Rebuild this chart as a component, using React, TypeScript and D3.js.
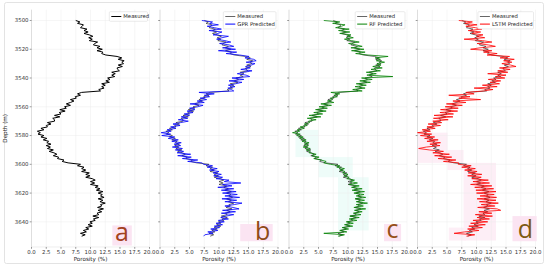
import React from "react";
import * as d3 from "d3";

// depth samples, 1 m apart starting at the top of the interval
const depthTop = 3500;

const measured = [
  7.5, 8.2, 7.8, 8.8, 8.6, 8.3, 9.4, 8.9, 9.6, 8.9, 9.8, 10.4, 9.7, 10.3, 9.8, 11.2, 10.7, 10.5, 11.6, 11.1,
  12.0, 11.1, 12.1, 11.9, 12.6, 14.5, 15.3, 14.7, 15.7, 15.3, 15.6, 14.7, 15.4, 14.5, 14.6, 14.9, 13.6, 14.2, 13.6, 14.1,
  12.9, 13.3, 12.6, 13.2, 11.9, 12.5, 11.9, 12.3, 11.4, 11.7, 8.5, 7.8, 8.3, 7.4, 7.6, 6.6, 7.2, 6.6, 5.9, 6.6,
  5.6, 5.9, 4.8, 5.7, 4.7, 5.0, 3.9, 4.8, 3.6, 3.9, 3.9, 2.7, 3.3, 2.5, 2.7, 1.6, 2.1, 1.0, 1.5, 1.1,
  2.1, 1.6, 2.6, 2.0, 2.9, 2.6, 3.3, 2.5, 3.2, 2.7, 3.7, 3.0, 3.8, 4.3, 3.7, 4.6, 4.4, 5.5, 5.2, 6.2,
  8.3, 7.8, 8.9, 8.5, 9.2, 8.5, 9.8, 9.2, 9.9, 9.2, 10.3, 10.8, 10.0, 10.7, 10.0, 11.3, 10.8, 11.6, 11.0, 12.1,
  11.3, 12.0, 11.7, 12.3, 11.3, 12.1, 11.6, 12.5, 11.7, 11.9, 11.2, 12.2, 11.3, 11.9, 11.1, 11.4, 10.4, 11.4, 10.5, 10.8,
  9.9, 10.3, 9.6, 10.3, 9.2, 9.7, 8.8, 9.3, 8.3, 9.1, 8.5,
];

const gprPredicted = [
  7.1, 8.9, 8.4, 9.9, 8.0, 9.2, 10.4, 8.3, 10.5, 9.8, 9.0, 11.6, 10.5, 9.6, 11.0, 12.0, 10.1, 11.7, 12.5, 10.6,
  12.8, 9.9, 13.0, 11.2, 13.5, 15.1, 14.4, 15.9, 16.3, 14.6, 16.1, 15.5, 14.5, 15.3, 13.7, 15.6, 14.3, 13.1, 14.6, 15.2,
  12.2, 14.2, 11.7, 13.9, 12.8, 11.6, 12.7, 11.5, 12.1, 12.5, 6.6, 9.2, 7.5, 8.4, 6.8, 7.9, 6.3, 7.5, 5.1, 7.3,
  6.4, 5.0, 5.9, 4.6, 5.6, 4.1, 5.0, 3.6, 4.7, 3.1, 4.8, 3.5, 2.2, 3.4, 1.8, 2.7, 1.2, 1.9, 0.2, 1.8,
  0.3, 2.5, 1.4, 3.1, 2.0, 3.6, 2.4, 3.5, 2.1, 3.8, 2.6, 4.0, 2.9, 5.2, 3.0, 5.3, 3.8, 6.4, 4.7, 7.1,
  7.4, 8.9, 8.0, 9.7, 8.4, 10.0, 9.0, 10.4, 9.1, 10.6, 9.5, 11.7, 10.9, 13.7, 10.6, 12.2, 9.8, 12.5, 10.4, 12.9,
  10.6, 13.1, 11.0, 13.5, 10.5, 13.0, 11.0, 13.9, 12.6, 11.0, 12.4, 13.4, 10.6, 12.8, 10.4, 12.5, 11.2, 10.3, 11.6, 9.9,
  10.9, 9.5, 10.6, 9.2, 10.1, 8.6, 9.8, 8.1, 9.0, 7.6, 7.4,
];

const rfPredicted = [
  5.9, 8.6, 7.4, 9.5, 8.9, 7.9, 10.2, 8.4, 10.3, 8.6, 10.5, 9.8, 10.9, 9.4, 10.6, 11.9, 10.1, 11.4, 12.4, 10.5,
  12.7, 10.6, 12.9, 11.3, 13.4, 16.8, 14.6, 15.5, 14.8, 16.2, 14.9, 15.6, 14.2, 15.8, 13.9, 15.5, 13.1, 14.8, 13.2, 17.6,
  12.3, 14.1, 12.0, 13.8, 11.4, 13.1, 11.2, 12.9, 10.8, 12.4, 7.1, 8.6, 7.6, 8.2, 7.0, 7.4, 6.5, 7.6, 5.4, 7.2,
  5.1, 6.5, 4.5, 6.3, 4.2, 5.7, 3.4, 5.4, 3.1, 4.6, 3.3, 3.5, 2.6, 3.1, 1.9, 2.6, 1.4, 1.8, 0.6, 1.9,
  1.3, 2.4, 1.8, 2.9, 2.2, 3.4, 2.6, 3.3, 2.4, 3.6, 2.9, 3.6, 3.4, 4.6, 3.9, 5.1, 4.2, 5.4, 6.3, 5.9,
  7.0, 8.6, 8.1, 9.4, 8.6, 9.5, 9.1, 10.0, 9.3, 10.2, 9.8, 11.1, 10.4, 11.6, 10.2, 11.9, 10.6, 12.4, 10.7, 12.8,
  11.0, 12.7, 11.4, 13.0, 11.2, 12.8, 11.4, 13.3, 11.4, 12.6, 11.0, 13.0, 11.1, 12.4, 10.9, 12.2, 10.3, 11.9, 10.2, 11.5,
  9.7, 10.9, 9.4, 10.8, 9.0, 10.1, 8.6, 9.8, 5.9, 9.4, 8.3,
];

const lstmPredicted = [
  7.0, 9.3, 8.0, 10.1, 8.2, 9.8, 10.9, 8.6, 10.7, 9.2, 11.1, 10.0, 11.4, 7.9, 11.0, 12.6, 10.1, 12.0, 13.2, 10.6,
  9.0, 12.6, 11.2, 13.5, 11.8, 15.6, 14.0, 16.4, 14.6, 16.0, 14.3, 15.8, 16.7, 13.9, 15.7, 13.6, 15.3, 11.9, 15.0, 13.2,
  14.8, 12.0, 14.1, 12.3, 13.9, 11.0, 13.5, 9.6, 12.8, 11.2, 8.2, 9.6, 5.3, 8.9, 7.0, 10.7, 6.0, 8.2, 4.9, 7.6,
  4.7, 6.9, 3.9, 6.8, 3.8, 6.1, 2.8, 6.0, 2.7, 5.2, 2.6, 4.1, 1.8, 3.9, 1.6, 3.0, 0.8, 2.2, 0.0, 2.4,
  0.5, 2.9, 1.2, 3.5, 1.6, 3.9, 2.1, 3.8, 1.5, 0.2, 2.0, 4.4, 2.6, 5.4, 2.9, 5.8, 3.5, 6.5, 4.4, 7.0,
  6.9, 9.1, 7.5, 9.8, 8.0, 10.1, 8.6, 10.9, 8.5, 10.8, 9.2, 12.0, 9.4, 12.2, 9.0, 12.6, 9.7, 12.9, 9.9, 13.3,
  10.0, 13.0, 10.6, 13.4, 10.1, 13.3, 10.5, 13.7, 10.8, 13.1, 10.2, 13.5, 14.1, 10.4, 12.6, 9.8, 12.7, 10.1, 12.2, 9.4,
  11.9, 9.0, 11.5, 8.7, 11.0, 8.5, 10.4, 8.0, 6.2, 9.7, 8.3,
];

const xTicks = [0, 2.5, 5, 7.5, 10, 12.5, 15, 17.5, 20];
const yTicks = [3500, 3520, 3540, 3560, 3580, 3600, 3620, 3640];
const panelLetters = ["a", "b", "c", "d"];
const modelNames = ["", "GPR Predicted", "RF Predicted", "LSTM Predicted"];
const modelColors = ["#000000", "#0000ff", "#008000", "#ff0000"];
const letterColors = ["#a3421e", "#8e4a16", "#955019", "#7d5a12"];

// faint highlight blocks seen behind the curves [x0, x1, depth0, depth1]
const highlightsC = [
  [1.1, 5.0, 3576, 3595],
  [5.0, 10.8, 3595, 3609],
  [8.3, 13.5, 3609, 3646],
];
const highlightsD = [
  [0.0, 5.1, 3578, 3599],
  [5.1, 7.8, 3590, 3604],
  [7.8, 13.3, 3599, 3653],
  [5.3, 8.2, 3644, 3653],
];
// letter tag boxes [x0, x1, depth0, depth1] and letter anchor [x, depth]
const tagBoxes = [
  [13.7, 17.0, 3642.5, 3656.5],
  [13.6, 19.1, 3641.5, 3653.5],
  [16.1, 19.0, 3641.5, 3653.5],
  [16.1, 20.2, 3636, 3653.5],
];
const tagAnchors = [
  [15.35, 3653.5],
  [17.4, 3652.5],
  [17.55, 3651.5],
  [18.3, 3651],
];

const W = 550;
const H = 271;
const panelLeft = [31.5, 160, 289, 417.5];
const panelW = 118;
const plotTop = 9.7;
const plotBottom = 247;
const font = "DejaVu Sans, sans-serif";

const y = d3.scaleLinear().domain([3492.5, 3657.5]).range([plotTop, plotBottom]);
const fmt = d3.format(".1f");

function Panel({ idx }: { idx: number }) {
  const x = d3.scaleLinear().domain([0, 20]).range([panelLeft[idx], panelLeft[idx] + panelW]);
  const line = d3
    .line<number>()
    .x((v) => x(v))
    .y((_, i) => y(depthTop + i));
  const preds = [null, gprPredicted, rfPredicted, lstmPredicted][idx];
  const hl = idx === 2 ? highlightsC : idx === 3 ? highlightsD : [];
  const hlColor = idx === 2 ? "#eefcf9" : "#fdeef6";
  const legendRows = idx === 0 ? ["Measured"] : ["Measured", modelNames[idx]];
  const longest = d3.max(legendRows, (s) => s.length) as number;
  const boxW = 15 + longest * 2.9;
  const boxH = legendRows.length * 7.6 + 2;
  const boxX = x(20) - 2 - boxW;
  const boxY = plotTop + 2;
  const tb = tagBoxes[idx];

  return (
    <g>
      {hl.map((h, i) => (
        <rect key={i} x={x(h[0])} y={y(h[2])} width={x(h[1]) - x(h[0])} height={y(h[3]) - y(h[2])} fill={hlColor} />
      ))}
      {xTicks.map((t) => (
        <line key={"gx" + t} x1={x(t)} x2={x(t)} y1={plotTop} y2={plotBottom} stroke="#ededed" strokeWidth={0.5} />
      ))}
      {yTicks.map((t) => (
        <line key={"gy" + t} x1={x(0)} x2={x(20)} y1={y(t)} y2={y(t)} stroke="#ededed" strokeWidth={0.5} />
      ))}
      <line x1={x(0)} x2={x(0)} y1={plotTop} y2={plotBottom} stroke="#cfcfcf" strokeWidth={0.6} />
      <line x1={x(0)} x2={x(20)} y1={plotBottom} y2={plotBottom} stroke="#e2e2e2" strokeWidth={0.6} />

      <rect x={x(tb[0])} y={y(tb[2])} width={x(tb[1]) - x(tb[0])} height={y(tb[3]) - y(tb[2])} fill="#fbe4f2" />
      <text
        x={x(tagAnchors[idx][0])}
        y={y(tagAnchors[idx][1])}
        textAnchor="middle"
        fontFamily="Open Sans, sans-serif"
        fontSize={25}
        fill={letterColors[idx]}
      >
        {panelLetters[idx]}
      </text>

      {idx === 0 ? (
        <path d={line(measured) || ""} fill="none" stroke="#000" strokeWidth={1} />
      ) : (
        <g>
          <path d={line(measured) || ""} fill="none" stroke="#333" strokeWidth={0.9} opacity={0.8} />
          <path d={line(preds as number[]) || ""} fill="none" stroke={modelColors[idx]} strokeWidth={0.9} opacity={0.88} />
        </g>
      )}

      {yTicks.map((t) => (
        <g key={"ty" + t}>
          <line x1={x(0) - 1.8} x2={x(0)} y1={y(t)} y2={y(t)} stroke="#555" strokeWidth={0.6} />
          {idx === 0 && (
            <text x={x(0) - 3} y={y(t)} dy="0.35em" textAnchor="end" fontFamily={font} fontSize={5.4} fill="#333">
              {t}
            </text>
          )}
        </g>
      ))}
      {xTicks.map((t) => (
        <g key={"tx" + t}>
          <line x1={x(t)} x2={x(t)} y1={plotBottom} y2={plotBottom + 1.8} stroke="#555" strokeWidth={0.6} />
          <text x={x(t)} y={plotBottom + 7.2} textAnchor="middle" fontFamily={font} fontSize={5.4} fill="#333">
            {fmt(t)}
          </text>
        </g>
      ))}
      <text x={x(10)} y={plotBottom + 14} textAnchor="middle" fontFamily={font} fontSize={5.6} fill="#222">
        Porosity (%)
      </text>

      <rect x={boxX} y={boxY} width={boxW} height={boxH} fill="#fff" fillOpacity={0.85} stroke="#d6d6d6" strokeWidth={0.5} rx={1} />
      {legendRows.map((s, i) => {
        const ly = boxY + 4.8 + i * 7.6;
        const col = i === 0 ? (idx === 0 ? "#000" : "#666") : modelColors[idx];
        return (
          <g key={s}>
            <line x1={boxX + 2} x2={boxX + 12} y1={ly} y2={ly} stroke={col} strokeWidth={1} />
            <text x={boxX + 14} y={ly} dy="0.35em" fontFamily={font} fontSize={5.3} fill="#222">
              {s}
            </text>
          </g>
        );
      })}
    </g>
  );
}

export default function App() {
  return (
    <svg width={W} height={H} style={{ position: "absolute", left: 0, top: 0, background: "#fff" }}>
      <rect x={4.5} y={2.5} width={539} height={261} fill="#fff" stroke="#dcdcdc" strokeWidth={0.8} rx={2} />
      {panelLetters.map((_, i) => (
        <Panel key={i} idx={i} />
      ))}
      <text
        transform={`translate(6.5,${(plotTop + plotBottom) / 2}) rotate(-90)`}
        textAnchor="middle"
        fontFamily={font}
        fontSize={5.6}
        fill="#222"
      >
        Depth (m)
      </text>
    </svg>
  );
}
